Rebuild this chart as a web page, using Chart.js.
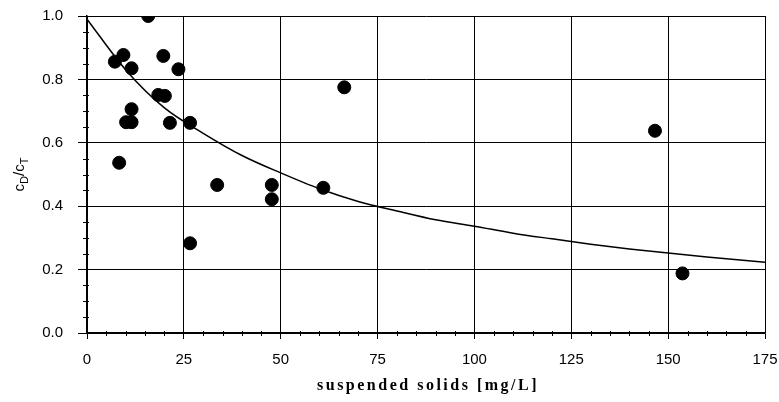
<!DOCTYPE html>
<html>
<head>
<meta charset="utf-8">
<script src="https://cdn.jsdelivr.net/npm/chart.js@4"></script>
<style>
  html, body { margin: 0; padding: 0; background: #fff; }
  #wrap { width: 779px; height: 402px; }
</style>
</head>
<body>
<div id="wrap"><canvas id="chart" width="779" height="402"></canvas></div>
<script>
// measured points (suspended solids mg/L vs cD/cT)
const solids = [15.8, 7.2, 9.4, 11.5, 19.7, 23.6, 18.4, 20.1, 11.5, 10.1, 11.5, 21.4, 26.6, 8.3, 33.6, 26.6, 47.7, 47.7, 61, 66.4, 146.6, 153.7];
const ratio = [1.0, 0.856, 0.877, 0.835, 0.874, 0.832, 0.751, 0.748, 0.706, 0.665, 0.665, 0.663, 0.663, 0.537, 0.467, 0.283, 0.467, 0.422, 0.458, 0.775, 0.638, 0.188];

// fitted curve
const curveX = [0, 10, 20, 30, 40, 50, 60, 70, 80, 90, 100, 110, 120, 130, 140, 150, 160, 175];
const curveY = [0.99, 0.83, 0.71, 0.63, 0.56, 0.505, 0.455, 0.415, 0.385, 0.357, 0.337, 0.315, 0.297, 0.28, 0.265, 0.252, 0.24, 0.223];

const xTicks = [0, 25, 50, 75, 100, 125, 150, 175];
const yTicks = [0.0, 0.2, 0.4, 0.6, 0.8, 1.0];
const xTitle = "suspended solids [mg/L]";

const ctx = document.getElementById("chart").getContext("2d");

// minor ticks, axis titles (spaced x title, y title with subscripts)
const extras = {
  id: "extras",
  afterDraw(chart) {
    const c = chart.ctx;
    const xs = chart.scales.x, ys = chart.scales.y;
    c.save();
    c.strokeStyle = "#000";
    c.lineWidth = 1;
    c.beginPath();
    for (let v = 5; v < 175; v += 5) {
      if (v % 25 === 0) continue;
      const px = Math.round(xs.getPixelForValue(v)) + 0.5;
      c.moveTo(px, ys.bottom - 2);
      c.lineTo(px, ys.bottom + 3);
    }
    for (let v = 0.05; v < 1; v += 0.05) {
      if (Math.abs(v * 5 - Math.round(v * 5)) < 1e-6) continue;
      const py = Math.round(ys.getPixelForValue(v)) + 0.5;
      c.moveTo(xs.left - 4, py);
      c.lineTo(xs.left + 2, py);
    }
    c.stroke();

    // x title
    c.fillStyle = "#000";
    c.font = "bold 16px 'Liberation Serif', 'DejaVu Serif', serif";
    c.letterSpacing = "2.5px";
    c.textAlign = "center";
    c.textBaseline = "middle";
    c.fillText(xTitle, (xs.left + xs.right) / 2 + 2, 386);
    c.letterSpacing = "0px";

    // y title: cD/cT
    c.textAlign = "left";
    const cy = (ys.top + ys.bottom) / 2;
    c.translate(19, cy);
    c.rotate(-Math.PI / 2);
    c.textBaseline = "alphabetic";
    const big = "15px 'Liberation Sans', Arial, sans-serif";
    const small = "11px 'Liberation Sans', Arial, sans-serif";
    const parts = [["c", big, 0], ["D", small, 4], ["/c", big, 0], ["T", small, 4]];
    let w = 0;
    parts.forEach(p => { c.font = p[1]; w += c.measureText(p[0]).width; });
    let x = -w / 2;
    parts.forEach(p => {
      c.font = p[1];
      c.fillText(p[0], x, 5 + p[2]);
      x += c.measureText(p[0]).width;
    });
    c.restore();
  }
};

new Chart(ctx, {
  type: "scatter",
  data: {
    datasets: [
      {
        type: "line",
        data: curveX.map((x, i) => ({ x, y: curveY[i] })),
        borderColor: "#000",
        borderWidth: 1.5,
        pointRadius: 0,
        fill: false,
        cubicInterpolationMode: "monotone",
        order: 2
      },
      {
        data: solids.map((x, i) => ({ x, y: ratio[i] })),
        backgroundColor: "#000",
        borderColor: "#000",
        pointRadius: 6.5,
        pointHoverRadius: 6.5,
        order: 1
      }
    ]
  },
  options: {
    responsive: false,
    animation: false,
    layout: { padding: { top: 16, right: 14, left: 0, bottom: 0 } },
    plugins: { legend: { display: false }, tooltip: { enabled: false } },
    scales: {
      x: {
        type: "linear",
        min: 0,
        max: 175,
        afterBuildTicks: s => { s.ticks = xTicks.map(v => ({ value: v })); },
        afterFit: s => { s.height = 69; s.paddingLeft = 0; s.paddingRight = 0; },
        grid: { color: "#000", lineWidth: 1, tickLength: 6 },
        border: { color: "#000", width: 1.5 },
        ticks: {
          color: "#000",
          padding: 12,
          maxRotation: 0,
          font: { family: "'Liberation Sans', Arial, sans-serif", size: 15 }
        },
        title: { display: false }
      },
      y: {
        min: 0,
        max: 1,
        afterBuildTicks: s => { s.ticks = yTicks.map(v => ({ value: v })); },
        afterFit: s => { s.width = 87; s.paddingTop = 0; s.paddingBottom = 0; },
        grid: { color: "#000", lineWidth: 1, tickLength: 9 },
        border: { color: "#000", width: 1.5 },
        ticks: {
          color: "#000",
          padding: 15,
          callback: v => v.toFixed(1),
          font: { family: "'Liberation Sans', Arial, sans-serif", size: 15 }
        }
      }
    }
  },
  plugins: [extras]
});
</script>
</body>
</html>
